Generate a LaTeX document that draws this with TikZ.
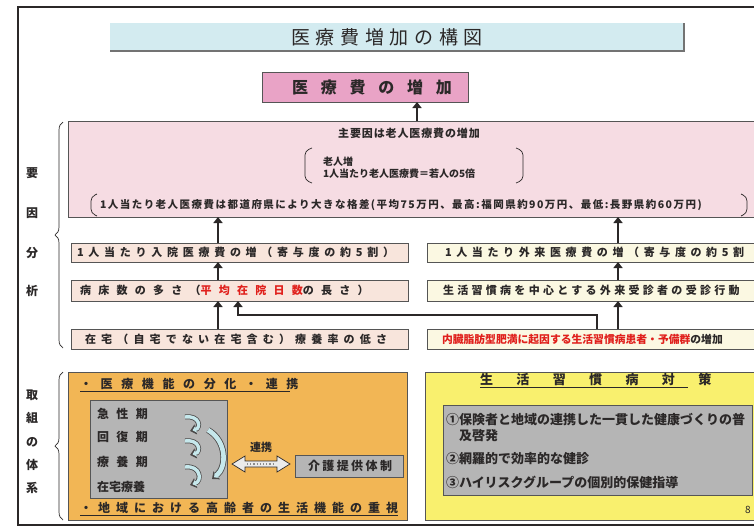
\documentclass[tikz,border=0pt]{standalone}
\usepackage{fontspec}
\setmainfont{Noto Sans CJK JP}
\usetikzlibrary{arrows.meta,decorations.pathreplacing,calc}
\definecolor{titlebl}{HTML}{D3EBF0}
\definecolor{pinkT}{HTML}{E9A3C6}
\definecolor{pinkB}{HTML}{F6DCE3}
\definecolor{peach}{HTML}{F8E5DC}
\definecolor{cream}{HTML}{FBF8E2}
\definecolor{orangeB}{HTML}{F2B655}
\definecolor{yellowB}{HTML}{F9F06E}
\definecolor{grayB}{HTML}{B5B5B5}
\definecolor{redT}{HTML}{E0201C}
\definecolor{ink}{HTML}{2B2828}
\definecolor{lineC}{HTML}{555555}
\definecolor{arrfill}{HTML}{C6E8EC}
\newcommand{\fsz}[1]{\fontsize{#1}{#1}\selectfont}
\newcommand{\lsp}[1]{\addfontfeatures{LetterSpace=#1}}
\newcommand{\carw}[2]{%
  \draw[ink!85, line width=#2pt+1.6pt, -{Triangle[length=6pt,width=10pt]}] #1;
  \draw[arrfill, line width=#2pt, shorten >=2.6pt, -{Triangle[length=3.6pt,width=6.4pt]}] #1;}
\begin{document}
\begin{tikzpicture}[x=1pt,y=-1pt,
  every node/.style={inner sep=0pt, outer sep=0pt, text=ink},
  box/.style={draw=lineC, line width=0.7pt},
  arr/.style={line width=2.6pt, draw=ink, -{Triangle[length=6pt,width=9pt]}},
  lbl/.style={font=\fsz{12}\bfseries},
  brk/.style={draw=ink, line width=0.7pt, rounded corners=4pt},
  brace/.style={draw=ink, line width=0.7pt, decorate, decoration={brace,amplitude=8pt}}]
\useasboundingbox (0,0) rectangle (754,530);
\clip (0,0) rectangle (754,530);
\fill[white] (0,0) rectangle (754,530);
% outer frame
\draw[ink, line width=2pt] (18,7) rectangle (820,525);
% title
\fill[titlebl] (110,23) rectangle (683,50);
\draw[black!55, line width=1.5pt] (110,51) -- (684,51) -- (684,23);
\node[font=\fsz{19}\lsp{30}] (title) at (387,37) {医療費増加の構図};
% top pink
\node[box, fill=pinkT, minimum width=206pt, minimum height=30pt] (pinkT) at (365,87) {};
\node[font=\fsz{16}\bfseries\lsp{80}] (pinkTt) at (372,87) {医療費の増加};
% big pink
\node[box, fill=pinkB, minimum width=712pt, minimum height=96pt] (pinkBig) at (424,169) {};
\node[font=\fsz{11}\bfseries\lsp{8}] (main) at (409,133) {主要因は老人医療費の増加};
\node[font=\fsz{10}\bfseries, anchor=west] (l1) at (323,162) {老人増};
\node[font=\fsz{10}\bfseries, anchor=west] (l2) at (323,174) {1人当たり老人医療費＝若人の5倍};
\node[font=\fsz{10.5}\bfseries\lsp{14}, anchor=west] (l3) at (100,205) {1人当たり老人医療費は都道府県により大きな格差(平均75万円、最高:福岡県約90万円、最低:長野県約60万円)};
\draw[brk] (312,148) -- (305,151) -- (305,180) -- (312,183);
\draw[brk] (516,148) -- (523,151) -- (523,180) -- (516,183);
\draw[brk] (97,194) -- (91,197) -- (91,213) -- (97,216);
\draw[brk] (741,194) -- (747,197) -- (747,213) -- (741,216);
% left labels
\node[lbl] (y1) at (32,173) {要};
\node[lbl] (y2) at (32,213) {因};
\node[lbl] (y3) at (32,253) {分};
\node[lbl] (y4) at (32,291) {析};
\draw[brace] (63,348) -- (63,122);
\node[lbl] (k1) at (32,395) {取};
\node[lbl] (k2) at (32,418) {組};
\node[lbl] (k3) at (32,442) {の};
\node[lbl] (k4) at (32,465) {体};
\node[lbl] (k5) at (32,488) {系};
\draw[brace] (63,520) -- (63,372);
% rows
\node[box, fill=peach, minimum width=337pt, minimum height=19pt] (rL1) at (239.5,252.5) {};
\node[box, fill=cream, minimum width=353pt, minimum height=19pt] (rR1) at (603.5,252.5) {};
\node[box, fill=peach, minimum width=337pt, minimum height=21pt] (rL2) at (239.5,290.5) {};
\node[box, fill=cream, minimum width=353pt, minimum height=21pt] (rR2) at (603.5,290.5) {};
\node[box, fill=peach, minimum width=337pt, minimum height=20pt] (rL3) at (239.5,339) {};
\node[box, fill=cream, minimum width=353pt, minimum height=20pt] (rR3) at (603.5,339) {};
\node[font=\fsz{11}\bfseries\lsp{43}, anchor=west] (tL1) at (77,252.5) {1人当たり入院医療費の増（寄与度の約5割）};
\node[font=\fsz{11}\bfseries\lsp{42}, anchor=west] (tR1) at (445,252.5) {1人当たり外来医療費の増（寄与度の約5割};
\node[font=\fsz{11}\bfseries\lsp{66}, anchor=west] (tL2) at (80,290.5) {病床数の多さ（{\color{redT}平均在院日数}の長さ）};
\node[font=\fsz{11}\bfseries\lsp{30}, anchor=west] (tR2) at (443,290.5) {生活習慣病を中心とする外来受診者の受診行動};
\node[font=\fsz{11}\bfseries\lsp{47}, anchor=west] (tL3) at (85,339) {在宅（自宅でない在宅含む）療養率の低さ};
\node[font=\fsz{10.8}\bfseries, anchor=west] (tR3) at (442,339) {{\color{redT}内臓脂肪型肥満に起因する生活習慣病患者・予備群}の増加};
% arrows
\coordinate (xL) at (218,0);
\coordinate (xR) at (618,0);
\coordinate (xT) at (417,0);
\coordinate (xC) at (597,0);
\coordinate (xD) at (238,0);
\coordinate (yC) at (0,315);
\draw[arr] (pinkBig.north -| xT) -- (pinkT.south -| xT);
\draw[arr] (rL1.north -| xL) -- (pinkBig.south -| xL);
\draw[arr] (rR1.north -| xR) -- (pinkBig.south -| xR);
\draw[arr] (rL2.north -| xL) -- (rL1.south -| xL);
\draw[arr] (rR2.north -| xR) -- (rR1.south -| xR);
\draw[arr] (rL3.north -| xL) -- (rL2.south -| xL);
\draw[arr] (rR3.north -| xR) -- (rR2.south -| xR);
\draw[arr] (rR3.north -| xC) -- (xC |- yC) -- (xD |- yC) -- (rL2.south -| xD);
% lower orange box
\node[box, fill=orangeB, minimum width=339pt, minimum height=148pt] (orange) at (237.5,446) {};
\node[font=\fsz{12}\bfseries\lsp{72}, anchor=west] (ot) at (80,384) {・医療機能の分化・連携};
\draw[ink, line width=0.8pt] ($(ot.south west)+(0,1.5)$) -- ($(ot.south east)+(-8,1.5)$);
\node[box, fill=grayB, minimum width=137pt, minimum height=98pt] (grayL) at (158.5,449) {};
\node[font=\fsz{12}\bfseries\lsp{62}, anchor=west] (g1) at (97,414) {急性期};
\node[font=\fsz{12}\bfseries\lsp{62}, anchor=west] (g2) at (97,437) {回復期};
\node[font=\fsz{12}\bfseries\lsp{62}, anchor=west] (g3) at (97,462) {療養期};
\node[font=\fsz{12}\bfseries, anchor=west] (g4) at (97,487) {在宅療養};
\carw{(185,417) .. controls (200,415) and (201,428) .. (190,431)}{3.4}
\carw{(185,441) .. controls (200,439) and (201,452) .. (190,455)}{3.4}
\carw{(185,467) .. controls (201,465) and (202,481) .. (190,485)}{3.4}
\carw{(208,430) .. controls (227,441) and (227,467) .. (212,479)}{4.6}
\node[font=\fsz{11}\bfseries] (renk) at (261,447) {連携};
\node[box, fill=grayB, minimum width=108pt, minimum height=22pt] (kaigo) at (349,466) {};
\node[font=\fsz{12}\bfseries\lsp{20}, anchor=west] (kt) at (308,466) {介護提供体制};
\filldraw[draw=ink, line width=0.7pt, fill=black!8] (232,464) -- (245,456) -- (245,461) -- (277,461) -- (277,456) -- (290,464) -- (277,472) -- (277,467) -- (245,467) -- (245,472) -- cycle;
\draw[black!45, line width=1.2pt, dotted] (247,464) -- (275,464);
\node[font=\fsz{12}\bfseries\lsp{50}, anchor=west] (ob) at (80,508) {・地域における高齢者の生活機能の重視};
\draw[ink, line width=0.8pt] ($(ob.south west)+(0,1.5)$) -- ($(ob.south east)+(0,1.5)$);
% yellow box
\node[box, fill=yellowB, minimum width=355pt, minimum height=148pt] (yellow) at (602.5,446) {};
\node[font=\fsz{13}\bfseries\lsp{180}, anchor=west] (yt) at (480,380) {生活習慣病対策};
\draw[ink, line width=0.8pt] ($(yt.south west)+(0,1.5)$) -- ($(yt.south east)+(-23,1.5)$);
\node[box, fill=grayB, minimum width=309pt, minimum height=90pt] (grayR) at (597.5,450) {};
\node[font=\fsz{13}\bfseries, anchor=west] (p1) at (446,420) {①保険者と地域の連携した一貫した健康づくりの普};
\node[font=\fsz{13}\bfseries, anchor=west] (p1b) at (459,436) {及啓発};
\node[font=\fsz{13}\bfseries, anchor=west] (p2) at (446,459) {②網羅的で効率的な健診};
\node[font=\fsz{13}\bfseries, anchor=west] (p3) at (446,482) {③ハイリスクグループの個別的保健指導};
\node[font=\fsz{10}] (pg) at (748,510) {8};
\end{tikzpicture}
\end{document}
